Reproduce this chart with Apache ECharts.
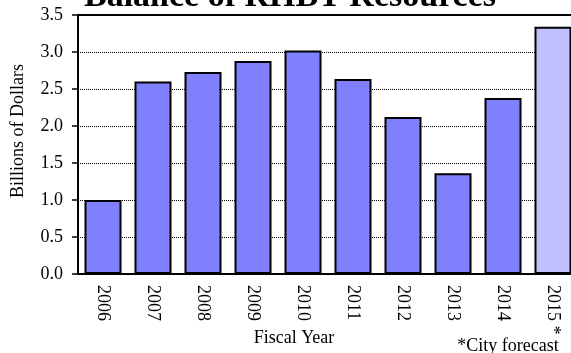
<!DOCTYPE html>
<html>
<head>
<meta charset="utf-8">
<script src="https://cdn.jsdelivr.net/npm/echarts@6/dist/echarts.min.js"></script>
<style>
  html, body { margin: 0; padding: 0; overflow: hidden; background: #fff; }
  #chart { width: 600px; height: 353px; }
</style>
</head>
<body>
<div id="chart"></div>
<script>
// Fiscal years and RHBT balances (billions of dollars); FY2015 is the City forecast
var years = ['2006', '2007', '2008', '2009', '2010', '2011', '2012', '2013', '2014', '2015 *'];
var balances = [1.00, 2.60, 2.73, 2.88, 3.02, 2.635, 2.12, 1.36, 2.38, 3.34];
var forecastYears = ['2015 *'];
var yTicks = ['0.0', '0.5', '1.0', '1.5', '2.0', '2.5', '3.0', '3.5'];

var serif = '"Liberation Serif", "Times New Roman", serif';
var chart = echarts.init(document.getElementById('chart'), null, { renderer: 'canvas' });

var barData = years.map(function (y, i) {
  var isForecast = forecastYears.indexOf(y) >= 0;
  return {
    value: balances[i],
    itemStyle: { color: isForecast ? '#C0C0FF' : '#8080FF' }
  };
});

chart.setOption({
  animation: false,
  backgroundColor: '#fff',
  grid: {
    left: 78, right: 22, top: 15, bottom: 79,
    show: true, borderColor: '#000', borderWidth: 2, backgroundColor: 'transparent'
  },
  xAxis: {
    type: 'category',
    data: years,
    axisLine: { lineStyle: { color: '#000', width: 2 } },
    axisTick: { alignWithLabel: true, length: 5, lineStyle: { color: '#000', width: 1.5 } },
    axisLabel: {
      rotate: -90, margin: 11, color: '#000',
      fontFamily: serif, fontSize: 18
    },
    splitLine: { show: false }
  },
  yAxis: {
    type: 'value',
    min: 0, max: 3.5, interval: 0.5,
    axisLine: { show: true, lineStyle: { color: '#000', width: 2 } },
    axisTick: { show: true, length: 6, lineStyle: { color: '#000', width: 1.5 } },
    axisLabel: {
      margin: 15, color: '#000', fontFamily: serif, fontSize: 18,
      formatter: function (v) { return yTicks[Math.round(v / 0.5)]; }
    },
    splitLine: { show: true, lineStyle: { color: '#000', width: 1, type: [1, 1] } }
  },
  series: [{
    type: 'bar',
    data: barData,
    barWidth: 37,
    itemStyle: { borderColor: '#000', borderWidth: 2 }
  }],
  graphic: [
    {
      type: 'text', silent: true, position: [290, -3],
      style: {
        text: 'Balance of RHBT Resources',
        font: 'bold 34px ' + serif, fill: '#000',
        textAlign: 'center', textVerticalAlign: 'middle'
      }
    },
    {
      type: 'text', silent: true, rotation: Math.PI / 2, position: [18, 131],
      style: {
        text: 'Billions of Dollars', font: '18px ' + serif, fill: '#000',
        textAlign: 'center', textVerticalAlign: 'middle'
      }
    },
    {
      type: 'text', silent: true, position: [294, 338],
      style: {
        text: 'Fiscal Year', font: '18px ' + serif, fill: '#000',
        textAlign: 'center', textVerticalAlign: 'middle'
      }
    },
    {
      type: 'text', silent: true, position: [508, 346],
      style: {
        text: '*City forecast', font: '18px ' + serif, fill: '#000',
        textAlign: 'center', textVerticalAlign: 'middle'
      }
    }
  ]
});
</script>
</body>
</html>
